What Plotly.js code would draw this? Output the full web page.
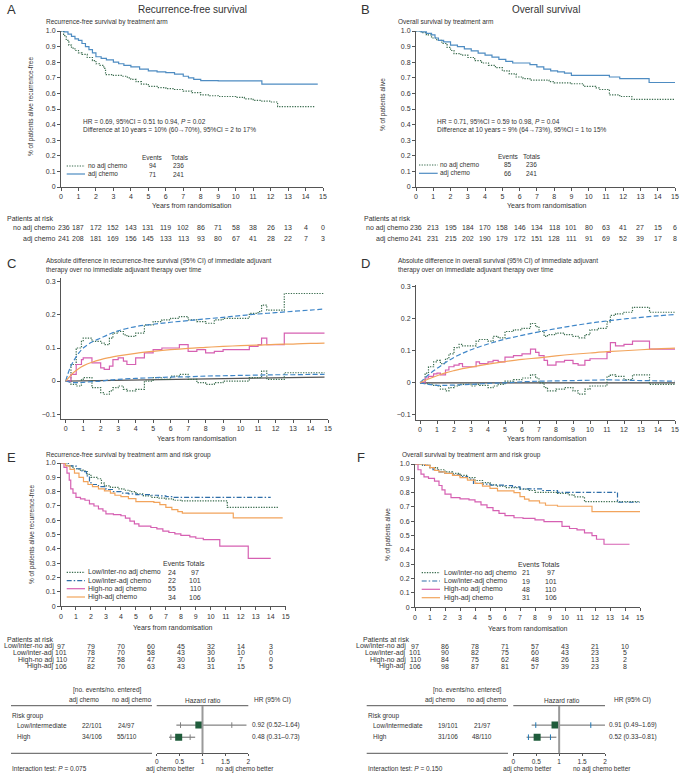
<!DOCTYPE html>
<html>
<head>
<meta charset="utf-8">
<script src="https://cdn.plot.ly/plotly-3.0.1.min.js"></script>
<style>
  body { margin: 0; background: #fff; }
  #chart { width: 681px; height: 773px; }
</style>
</head>
<body>
<div id="chart"></div>
<script>
// ---- A: recurrence-free survival by arm ----
let rfsNoAdjT = [0,0.15,0.3,0.45,0.6,0.8,1,1.2,1.5,1.8,2,2.2,2.45,2.55,3,3.5,3.8,4,4.3,4.6,5,5.5,6,6.5,7,7.5,8,8.5,9,10,10.5,11,11.5,12,12.4,14.5];
let rfsNoAdjS = [1,0.97,0.94,0.91,0.89,0.875,0.86,0.85,0.83,0.81,0.79,0.78,0.76,0.72,0.715,0.71,0.70,0.69,0.675,0.66,0.645,0.637,0.63,0.625,0.615,0.605,0.59,0.585,0.58,0.575,0.565,0.555,0.55,0.545,0.515,0.515];
let rfsAdjT = [0,0.2,0.4,0.6,0.8,1,1.2,1.4,1.6,1.8,2,2.3,2.6,3,3.3,3.6,4,4.5,5,5.5,6,6.5,7,7.3,7.6,8,9,10,11.5,14.7];
let rfsAdjS = [1,0.995,0.98,0.965,0.95,0.94,0.92,0.9,0.88,0.86,0.835,0.825,0.815,0.80,0.79,0.78,0.77,0.756,0.744,0.738,0.733,0.724,0.71,0.70,0.69,0.682,0.68,0.68,0.66,0.66];

// ---- B: overall survival by arm ----
let osNoAdjT = [0,0.3,0.6,0.9,1.2,1.5,1.8,2,2.2,2.6,3,3.4,3.8,4.2,4.6,5,5.4,5.8,6.2,6.6,7.7,8,9,9.7,10.4,10.6,11.2,11.8,12.5,15];
let osNoAdjS = [1,0.99,0.975,0.955,0.94,0.92,0.895,0.875,0.855,0.845,0.83,0.81,0.795,0.78,0.765,0.745,0.725,0.705,0.695,0.685,0.675,0.668,0.662,0.645,0.635,0.625,0.59,0.58,0.562,0.562];
let osAdjT = [0,0.3,0.6,0.9,1.1,1.3,1.6,2,2.4,2.8,3.2,3.6,4,4.4,4.8,5.2,5.6,6.6,7,7.4,7.8,8.2,8.6,9,11.2,11.8,13.5,15];
let osAdjS = [1,0.995,0.985,0.975,0.955,0.94,0.93,0.91,0.9,0.885,0.872,0.858,0.845,0.832,0.818,0.805,0.795,0.785,0.77,0.755,0.745,0.738,0.73,0.715,0.705,0.695,0.67,0.67];

// patients at risk, A and B (yearly)
let riskYears = [0,1,2,3,4,5,6,7,8,9,10,11,12,13,14,15];
let rfsRiskNoAdj = [236,187,172,152,143,131,119,102,86,71,58,38,26,13,4,0];
let rfsRiskAdj = [241,208,181,169,156,145,133,113,93,80,67,41,28,22,7,3];
let osRiskNoAdj = [236,213,195,184,170,158,146,134,118,101,80,63,41,27,15,6];
let osRiskAdj = [241,231,215,202,190,179,172,151,128,111,91,69,52,39,17,8];

// ---- C: absolute difference RFS ----
let cStepT = [0,0.3,0.6,0.9,1,1.5,2,2.2,2.5,2.7,3,3.3,3.5,4,4.5,5,5.5,6,6.5,7,7.5,8,8.5,9,10.5,11,11.2,11.5,12.5,14.8];
let cUpper = [0,0.05,0.1,0.12,0.13,0.12,0.115,0.11,0.13,0.145,0.15,0.14,0.135,0.145,0.17,0.18,0.185,0.19,0.195,0.185,0.18,0.175,0.185,0.19,0.205,0.21,0.23,0.215,0.265,0.265];
let cLower = [0,-0.01,-0.015,0.005,0.01,-0.02,-0.035,-0.04,-0.03,-0.02,-0.015,-0.025,-0.03,-0.025,0,0.01,0.005,0.015,0.02,0.005,-0.005,-0.01,-0.005,0,0.01,0.01,0.03,0.005,0.025,0.025];
let cDiff = [0,0.02,0.05,0.065,0.07,0.055,0.04,0.035,0.045,0.065,0.07,0.06,0.05,0.07,0.085,0.095,0.1,0.1,0.11,0.09,0.095,0.085,0.09,0.095,0.105,0.11,0.13,0.11,0.145,0.145];
let cFitT = [0,0.25,0.5,0.75,1,1.5,2,2.5,3,4,5,6,7,8,9,10,11,12,13,14,14.8];
let cFit = [0,0.015,0.028,0.038,0.046,0.057,0.065,0.071,0.076,0.084,0.09,0.095,0.099,0.102,0.105,0.107,0.109,0.111,0.112,0.114,0.115];
let cFitUp = [0,0.04,0.065,0.085,0.1,0.118,0.13,0.142,0.152,0.165,0.172,0.178,0.183,0.188,0.193,0.198,0.203,0.207,0.211,0.215,0.218];
let cFitLo = [0,-0.004,-0.005,-0.005,-0.004,-0.002,0,0.003,0.005,0.008,0.01,0.012,0.013,0.015,0.016,0.017,0.018,0.019,0.019,0.02,0.02];
let cRefT = [0,14.8];
let cRef = [0,0.012];

// ---- D: absolute difference OS ----
let dStepT = [0,0.3,0.5,0.8,1,1.2,1.5,1.7,2,2.3,2.5,3,3.3,3.5,4,4.3,4.6,5,5.5,6,6.5,6.8,7,7.3,7.5,8,8.5,9,9.3,9.7,10,10.5,11,11.2,11.5,12,12.5,13.5,15];
let dUpper = [0,0.03,0.05,0.065,0.07,0.06,0.075,0.09,0.11,0.12,0.115,0.115,0.13,0.135,0.13,0.145,0.14,0.16,0.165,0.17,0.185,0.175,0.16,0.145,0.15,0.155,0.15,0.145,0.14,0.15,0.165,0.17,0.19,0.21,0.215,0.22,0.235,0.22,0.22];
let dLower = [0,-0.003,-0.005,-0.008,-0.01,-0.02,-0.025,-0.015,-0.01,-0.005,-0.005,-0.01,-0.005,-0.008,-0.015,-0.01,-0.005,0.005,0.01,0.015,0.025,0.015,0,-0.015,-0.025,-0.02,-0.015,-0.025,-0.035,-0.02,-0.01,-0.01,0.02,0.025,0.02,0.01,0.025,-0.005,-0.005];
let dDiff = [0,0.015,0.02,0.028,0.03,0.025,0.04,0.05,0.055,0.06,0.05,0.05,0.065,0.06,0.065,0.07,0.065,0.08,0.085,0.09,0.105,0.095,0.085,0.07,0.055,0.065,0.07,0.06,0.055,0.07,0.075,0.075,0.095,0.125,0.115,0.12,0.13,0.105,0.105];
let dFitT = [0,0.5,1,1.5,2,2.5,3,4,5,6,7,8,9,10,11,12,13,14,15];
let dFit = [0,0.012,0.022,0.031,0.038,0.044,0.049,0.058,0.066,0.073,0.078,0.084,0.089,0.093,0.097,0.1,0.103,0.106,0.108];
let dFitUp = [0,0.025,0.045,0.063,0.079,0.092,0.103,0.121,0.136,0.148,0.159,0.169,0.178,0.186,0.193,0.199,0.204,0.209,0.213];
let dFitLo = [0,-0.005,-0.008,-0.008,-0.007,-0.006,-0.005,-0.002,0,0.003,0.005,0.006,0.007,0.008,0.009,0.008,0.007,0.006,0.005];
let dRefT = [0,15];
let dRef = [0,0];

// ---- E: RFS by arm and risk group ----
let eLowNoT = [0,0.4,0.8,1.2,1.6,1.75,2,2.4,2.7,2.9,3.3,3.8,4.2,4.6,5,5.5,6,6.5,7,7.5,8,11.1,14.5];
let eLowNoS = [1,0.98,0.96,0.95,0.94,0.92,0.9,0.89,0.86,0.84,0.83,0.82,0.81,0.8,0.785,0.77,0.76,0.755,0.75,0.74,0.735,0.69,0.69];
let eLowAdjT = [0,0.5,1,1.4,1.7,1.9,2,2.5,3,3.5,4,4.5,5,6,6.5,7,7.5,14];
let eLowAdjS = [1,0.98,0.96,0.94,0.91,0.87,0.85,0.835,0.815,0.8,0.79,0.785,0.78,0.775,0.77,0.765,0.76,0.76];
let eHighNoT = [0,0.2,0.4,0.55,0.65,0.8,1,1.3,1.6,1.9,2.2,2.5,2.8,3,3.5,4,4.3,4.6,4.9,5.2,6,6.4,6.8,7.2,7.6,8,8.6,9,9.5,10.6,12.5,14];
let eHighNoS = [1,0.97,0.93,0.88,0.82,0.79,0.76,0.75,0.74,0.715,0.7,0.68,0.665,0.645,0.64,0.632,0.615,0.595,0.575,0.56,0.55,0.54,0.525,0.515,0.505,0.495,0.485,0.475,0.465,0.42,0.335,0.335];
let eHighAdjT = [0,0.3,0.6,0.9,1.2,1.5,1.8,2.1,2.5,2.9,3.3,3.6,4,4.5,5,6.2,6.6,7,7.4,7.8,8.1,11.5,14.8];
let eHighAdjS = [1,0.98,0.955,0.93,0.9,0.87,0.85,0.835,0.82,0.805,0.79,0.775,0.765,0.752,0.73,0.725,0.71,0.69,0.675,0.66,0.65,0.617,0.617];

// ---- F: OS by arm and risk group ----
let fLowNoT = [0,0.5,1,1.5,2,2.5,3,3.5,4,4.5,5,5.5,6,7,7.6,8,9.5,10.2,10.6,11.3,15];
let fLowNoS = [1,0.99,0.975,0.96,0.945,0.935,0.92,0.905,0.885,0.87,0.855,0.845,0.835,0.825,0.815,0.802,0.795,0.785,0.77,0.737,0.737];
let fLowAdjT = [0,0.5,1,1.2,1.6,2,2.5,3,3.5,3.9,4.5,5,6,6.5,7,8.5,9.5,13.5,15];
let fLowAdjS = [1,0.99,0.975,0.96,0.945,0.935,0.925,0.912,0.895,0.865,0.86,0.853,0.849,0.84,0.826,0.815,0.802,0.733,0.733];
let fHighNoT = [0,0.2,0.4,0.6,0.9,1.3,1.6,1.8,2,2.4,3,3.6,4,4.4,4.8,5.2,5.6,6,6.6,7.2,8,8.6,9.8,10.3,10.8,11.3,11.8,12.1,12.6,14.3];
let fHighNoS = [1,0.96,0.93,0.91,0.9,0.88,0.85,0.82,0.79,0.765,0.757,0.75,0.735,0.715,0.695,0.675,0.655,0.64,0.625,0.62,0.61,0.598,0.565,0.55,0.54,0.52,0.5,0.475,0.44,0.44];
let fHighAdjT = [0,0.7,1,1.3,1.6,2,2.5,3,3.5,4,4.5,5,5.5,6.6,7,7.3,7.6,8.3,8.7,9.5,11.8,15];
let fHighAdjS = [1,0.99,0.975,0.955,0.945,0.935,0.92,0.905,0.888,0.865,0.845,0.83,0.812,0.8,0.772,0.755,0.742,0.728,0.712,0.705,0.667,0.667];

// patients at risk, E and F (every 2 years)
let groupYears = [0,2,4,6,8,10,12,14];
let groupLabels = ['Low/inter-no adj', 'Low/inter-adj', 'High-no adj', 'High-adj'];
let eRisk = [[97,79,70,60,45,32,14,3],[101,78,70,58,43,30,10,0],[110,72,58,47,30,16,7,0],[106,82,70,63,43,31,15,5]];
let fRisk = [[97,86,78,71,57,43,21,10],[101,90,82,75,60,43,23,5],[110,84,75,62,48,26,13,2],[106,98,87,81,57,39,23,8]];
let groupLegend = ['Low/inter-no adj chemo', 'Low/inter-adj chemo', 'High-no adj chemo', 'High-adj chemo'];
let eEvents = [24,22,55,34];
let eTotals = [97,101,110,106];
let fEvents = [21,19,48,31];
let fTotals = [97,101,110,106];

// forest plots
let riskGroups = ['Low/intermediate', 'High'];
let eAdjEnt = ['22/101', '34/106'];
let eNoAdjEnt = ['24/97', '55/110'];
let eHR = [0.92, 0.48];
let eLo95 = [0.52, 0.31], eHi95 = [1.64, 0.73];
let eLo99 = [0.43, 0.27], eHi99 = [1.96, 0.84];
let fAdjEnt = ['19/101', '31/106'];
let fNoAdjEnt = ['21/97', '48/110'];
let fHR = [0.91, 0.52];
let fLo95 = [0.49, 0.33], fHi95 = [1.69, 0.81];
let fLo99 = [0.40, 0.29], fHi99 = [2.0, 0.94];

const W = 681, H = 773;
const px = v => v / W;
const py = v => 1 - v / H;
const FONT = 'Liberation Sans, Arial, sans-serif';

const green = '#3b6d4f', blueA = '#4e8cc2', pink = '#d660b2', orange = '#f2a45c',
      blueDash = '#3f86c8', blueDD = '#2f6ea8', darkSq = '#1f5c3b';
const DOT = '1.3px,1.3px', DASH = '5px,2.5px', DASHDOT = '5px,2px,1.5px,2px';

let traces = [];
function line(x, y, xa, ya, color, dash, shape, width) {
  traces.push({x: x, y: y, xaxis: xa, yaxis: ya, type: 'scatter', mode: 'lines',
    line: {color: color, dash: dash || 'solid', shape: shape || 'hv', width: width || 1.2},
    hoverinfo: 'skip', showlegend: false});
}

// A
line(rfsNoAdjT, rfsNoAdjS, 'x', 'y', green, DOT);
line(rfsAdjT, rfsAdjS, 'x', 'y', blueA, 'solid');
// B
line(osNoAdjT, osNoAdjS, 'x2', 'y2', green, DOT);
line(osAdjT, osAdjS, 'x2', 'y2', blueA, 'solid');
// C
line(cRefT, cRef, 'x3', 'y3', '#555', 'solid', 'linear', 1.2);
line(cStepT, cUpper, 'x3', 'y3', green, DOT);
line(cStepT, cLower, 'x3', 'y3', green, DOT);
line(cStepT, cDiff, 'x3', 'y3', pink, 'solid');
line(cFitT, cFitUp, 'x3', 'y3', blueDash, DASH, 'spline');
line(cFitT, cFitLo, 'x3', 'y3', blueDash, DASH, 'spline');
line(cFitT, cFit, 'x3', 'y3', orange, 'solid', 'spline');
// D
line(dRefT, dRef, 'x4', 'y4', '#444', 'solid', 'linear', 1.3);
line(dStepT, dUpper, 'x4', 'y4', green, DOT);
line(dStepT, dLower, 'x4', 'y4', green, DOT);
line(dStepT, dDiff, 'x4', 'y4', pink, 'solid');
line(dFitT, dFitUp, 'x4', 'y4', blueDash, DASH, 'spline');
line(dFitT, dFitLo, 'x4', 'y4', blueDash, DASH, 'spline');
line(dFitT, dFit, 'x4', 'y4', orange, 'solid', 'spline');
// E
line(eLowNoT, eLowNoS, 'x5', 'y5', green, DOT);
line(eLowAdjT, eLowAdjS, 'x5', 'y5', blueDD, DASHDOT);
line(eHighNoT, eHighNoS, 'x5', 'y5', pink, 'solid');
line(eHighAdjT, eHighAdjS, 'x5', 'y5', orange, 'solid');
// F
line(fLowNoT, fLowNoS, 'x6', 'y6', green, DOT);
line(fLowAdjT, fLowAdjS, 'x6', 'y6', blueDD, DASHDOT);
line(fHighNoT, fHighNoS, 'x6', 'y6', pink, 'solid');
line(fHighAdjT, fHighAdjS, 'x6', 'y6', orange, 'solid');

// forest plots: rows at y = 2 (low/inter) and 1 (high)
function forest(hr, lo95, hi95, lo99, hi99, xa, ya) {
  let rows = [2, 1];
  let cx = [], cy = [];
  rows.forEach((r, i) => { cx.push(lo99[i], hi99[i], null); cy.push(r, r, null); });
  traces.push({x: cx, y: cy, xaxis: xa, yaxis: ya, type: 'scatter', mode: 'lines',
    line: {color: '#666', width: 1}, hoverinfo: 'skip', showlegend: false});
  traces.push({x: lo95.concat(hi95), y: rows.concat(rows), xaxis: xa, yaxis: ya, type: 'scatter', mode: 'markers',
    marker: {symbol: 'line-ns-open', size: 4, line: {color: '#666', width: 1}}, hoverinfo: 'skip', showlegend: false});
  traces.push({x: hr, y: rows, xaxis: xa, yaxis: ya, type: 'scatter', mode: 'markers',
    marker: {symbol: 'square', size: 7, color: darkSq}, hoverinfo: 'skip', showlegend: false});
}
forest(eHR, eLo95, eHi95, eLo99, eHi99, 'x7', 'y7');
forest(fHR, fLo95, fHi95, fLo99, fHi99, 'x8', 'y8');

function axis(domPx, range, extra, vertical) {
  let dom = vertical ? [py(domPx[1]), py(domPx[0])] : [px(domPx[0]), px(domPx[1])];
  return Object.assign({domain: dom, range: range, showline: true, linecolor: '#555', linewidth: 1,
    ticks: 'outside', ticklen: 3, tickwidth: 1, tickcolor: '#555', showgrid: false, zeroline: false,
    tickfont: {size: 7, color: '#333', family: FONT}, fixedrange: true}, extra);
}
const xTicks15 = {tickvals: riskYears, ticktext: riskYears.map(String)};
const survTicks = {tickvals: [0,0.1,0.2,0.3,0.4,0.5,0.6,0.7,0.8,0.9,1],
  ticktext: ['0','0.1','0.2','0.3','0.4','0.5','0.6','0.7','0.8','0.9','1.0']};
const diffTicks = {tickvals: [-0.1,0,0.1,0.2,0.3], ticktext: ['\u22120.1','0','0.1','0.2','0.3']};
const hrTicks = {tickvals: [0,0.5,1,1.5,2], ticktext: ['0','0.5','1','1.5','2'], ticklen: 2,
  tickfont: {size: 6.5, color: '#333', family: FONT}};

let layout = {
  width: W, height: H,
  margin: {l: 0, r: 0, t: 0, b: 0},
  paper_bgcolor: '#fff', plot_bgcolor: 'rgba(0,0,0,0)',
  font: {family: FONT, size: 7, color: '#333'},
  showlegend: false,
  xaxis: axis([61, 323], [0, 15], Object.assign({anchor: 'y'}, xTicks15)),
  yaxis: axis([31, 187], [0, 1], Object.assign({anchor: 'x'}, survTicks), true),
  xaxis2: axis([416, 675], [0, 15], Object.assign({anchor: 'y2'}, xTicks15)),
  yaxis2: axis([31, 187], [0, 1], Object.assign({anchor: 'x2'}, survTicks), true),
  xaxis3: axis([61, 328], [-0.27, 15], Object.assign({anchor: 'y3'}, xTicks15)),
  yaxis3: axis([278, 419], [-0.115, 0.312], Object.assign({anchor: 'x3'}, diffTicks), true),
  xaxis4: axis([416, 675], [-0.235, 15], Object.assign({anchor: 'y4'}, xTicks15)),
  yaxis4: axis([285, 420], [-0.116, 0.305], Object.assign({anchor: 'x4'}, diffTicks), true),
  xaxis5: axis([61, 285.7], [0, 15], Object.assign({anchor: 'y5'}, xTicks15)),
  yaxis5: axis([463, 606.3], [0, 1], Object.assign({anchor: 'x5'}, survTicks), true),
  xaxis6: axis([415, 640], [0, 15], Object.assign({anchor: 'y6'}, xTicks15)),
  yaxis6: axis([464, 607.3], [0, 1], Object.assign({anchor: 'x6'}, survTicks), true),
  xaxis7: axis([156.7, 248.3], [0, 2], Object.assign({anchor: 'y7'}, hrTicks)),
  yaxis7: axis([710, 753.3], [-0.33, 3.25], {anchor: 'x7', visible: false}, true),
  xaxis8: axis([513.3, 605], [0, 2], Object.assign({anchor: 'y8'}, hrTicks)),
  yaxis8: axis([710, 753.3], [-0.33, 3.25], {anchor: 'x8', visible: false}, true),
  annotations: [],
  shapes: []
};

function txt(text, x, y, anchor, size, extra) {
  layout.annotations.push(Object.assign({text: text, x: px(x), y: py(y), xref: 'paper', yref: 'paper',
    xanchor: anchor || 'left', yanchor: 'middle', showarrow: false, borderpad: 0,
    font: {size: size || 7, color: '#333', family: FONT}}, extra || {}));
}
function dataTxt(text, xval, xa, y, size) {
  layout.annotations.push({text: text, x: xval, y: py(y), xref: xa, yref: 'paper',
    xanchor: 'center', yanchor: 'middle', showarrow: false, borderpad: 0,
    font: {size: size || 7, color: '#333', family: FONT}});
}
function hline(x0, x1, y, color, dash, width) {
  layout.shapes.push({type: 'line', xref: 'paper', yref: 'paper', x0: px(x0), x1: px(x1), y0: py(y), y1: py(y),
    line: {color: color || '#555', dash: dash || 'solid', width: width || 1}});
}

// headings
txt('A', 6, 10, 'left', 13);
txt('Recurrence-free survival', 192, 10, 'center', 10);
txt('B', 360, 10, 'left', 13);
txt('Overall survival', 546, 10, 'center', 10);
txt('Recurrence-free survival by treatment arm', 45, 22.5, 'left', 6.5);
txt('Overall survival by treatment arm', 397, 22.5, 'left', 6.5);

// axis titles
txt('% of patients alive recurrence-free', 31, 107, 'center', 6.5, {textangle: -90});
txt('% of patients alive', 383, 105, 'center', 6.5, {textangle: -90});
txt('Years from randomisation', 192, 205.5, 'center', 7);
txt('Years from randomisation', 546.5, 205.5, 'center', 7);
txt('Years from randomisation', 196.5, 438, 'center', 7);
txt('Years from randomisation', 546.5, 438, 'center', 7);
txt('% of patients alive recurrence-free', 32, 535, 'center', 6.5, {textangle: -90});
txt('% of patients alive', 388, 535, 'center', 6.5, {textangle: -90});
txt('Years from randomisation', 173, 627, 'center', 7);
txt('Years from randomisation', 528, 628, 'center', 7);

// A statistics and legend
txt('HR = 0.69, 95%CI = 0.51 to 0.94, <i>P</i> = 0.02', 81.5, 121.7, 'left', 6.5);
txt('Difference at 10 years = 10% (60\u219270%), 95%CI = 2 to 17%', 81.5, 129.5, 'left', 6.5);
txt('Events', 152.7, 157.5, 'center', 6.5);
txt('Totals', 180, 157.5, 'center', 6.5);
hline(66.7, 85, 166, green, DOT, 1.2);
hline(66.7, 85, 174, blueA, 'solid', 1.2);
txt('no adj chemo', 87.3, 166, 'left', 6.5);
txt('adj chemo', 87.3, 174, 'left', 6.5);
txt('94', 152.7, 166, 'center', 6.5); txt('236', 178.3, 166, 'center', 6.5);
txt('71', 152.7, 174, 'center', 6.5); txt('241', 178.3, 174, 'center', 6.5);

// B statistics and legend
txt('HR = 0.71, 95%CI = 0.59 to 0.98, <i>P</i> = 0.04', 435.7, 121.7, 'left', 6.5);
txt('Difference at 10 years = 9% (64\u219273%), 95%CI = 1 to 15%', 435.7, 130, 'left', 6.5);
txt('Events', 508.3, 156, 'center', 6.5);
txt('Totals', 531.7, 156, 'center', 6.5);
hline(419, 437.7, 165, green, DOT, 1.2);
hline(419, 437.7, 173.3, blueA, 'solid', 1.2);
txt('no adj chemo', 439.3, 165, 'left', 6.5);
txt('adj chemo', 439.3, 173.3, 'left', 6.5);
txt('85', 508.3, 165, 'center', 6.5); txt('236', 531.7, 165, 'center', 6.5);
txt('66', 508.3, 173.3, 'center', 6.5); txt('241', 531.7, 173.3, 'center', 6.5);

// at-risk tables A and B
txt('Patients at risk', 6, 218, 'left', 7);
txt('no adj chemo', 56, 228, 'right', 7);
txt('adj chemo', 56, 238.5, 'right', 7);
riskYears.forEach((t, i) => {
  dataTxt(String(rfsRiskNoAdj[i]), t + (i === 0 ? 0.15 : 0), 'x', 228);
  dataTxt(String(rfsRiskAdj[i]), t + (i === 0 ? 0.15 : 0), 'x', 238.5);
});
txt('Patients at risk', 362.7, 218, 'left', 7);
txt('no adj chemo', 409, 228, 'right', 7);
txt('adj chemo', 409, 238.5, 'right', 7);
riskYears.forEach((t, i) => {
  dataTxt(String(osRiskNoAdj[i]), t, 'x2', 228);
  dataTxt(String(osRiskAdj[i]), t, 'x2', 238.5);
});

// C, D headings
txt('C', 6, 263, 'left', 13);
txt('Absolute difference in recurrence-free survival (95% CI) of immediate adjuvant', 45, 261, 'left', 6.5);
txt('therapy over no immediate adjuvant therapy over time', 45, 269.5, 'left', 6.5);
txt('D', 360, 263, 'left', 13);
txt('Absolute difference in overall survival (95% CI) of immediate adjuvant', 397.3, 261, 'left', 6.5);
txt('therapy over on immediate adjuvant therapy over time', 397.3, 269.5, 'left', 6.5);

// E, F headings
txt('E', 6, 457, 'left', 13);
txt('Recurrence-free survival by treatment arm and risk group', 45, 455, 'left', 6.5);
txt('F', 356, 457, 'left', 13);
txt('Overall survival by treatment arm and risk group', 401, 455, 'left', 6.5);

// E, F legends
let groupColors = [green, blueDD, pink, orange];
let groupDash = [DOT, DASHDOT, 'solid', 'solid'];
let eRows = [572.3, 580.7, 588.7, 597];
let fRows = [572.7, 581, 589.3, 597.7];
txt('Events Totals', 184, 563.7, 'center', 7);
txt('Events Totals', 539, 564, 'center', 7);
groupLegend.forEach((g, i) => {
  hline(66.7, 85, eRows[i], groupColors[i], groupDash[i], 1.2);
  txt(g, 87.3, eRows[i], 'left', 7);
  txt(String(eEvents[i]), 171.7, eRows[i], 'center', 7);
  txt(String(eTotals[i]), 195, eRows[i], 'center', 7);
  hline(421.7, 440, fRows[i], groupColors[i], groupDash[i], 1.2);
  txt(g, 442.7, fRows[i], 'left', 7);
  txt(String(fEvents[i]), 526, fRows[i], 'center', 7);
  txt(String(fTotals[i]), 550.7, fRows[i], 'center', 7);
});

// E, F at-risk tables
let gRows = [646, 652.7, 659.5, 666.2];
txt('Patients at risk', 6, 639, 'left', 7);
txt('Patients at risk', 361.7, 639, 'left', 7);
groupLabels.forEach((g, i) => {
  txt(g, 55, gRows[i], 'right', 7);
  txt(g, 406.7, gRows[i], 'right', 7);
  groupYears.forEach((t, j) => {
    dataTxt(String(eRisk[i][j]), t, 'x5', gRows[i]);
    dataTxt(String(fRisk[i][j]), t, 'x6', gRows[i]);
  });
});

// forest tables
function forestTable(x0, colAdj, colNo, hdrCenter, hrCenter, hrTitle, lineEnd, axStart, axEnd, hrTextX, adjEnt, noAdjEnt, hr, lo, hi, pText, betterL, betterR) {
  txt('[no. events/no. entered]', hdrCenter, 690, 'center', 6.5);
  txt('adj chemo', colAdj, 700, 'center', 6.5);
  txt('no adj chemo', colNo, 700, 'center', 6.5);
  txt('Hazard ratio', hrCenter, 700, 'center', 6.5);
  txt('HR (95% CI)', hrTitle, 700, 'center', 6.5);
  hline(x0, lineEnd, 705.7, '#555', 'solid', 1);
  hline(axStart, axEnd, 705.7, '#555', 'solid', 1);
  hline(x0, lineEnd, 753.3, '#555', 'solid', 1);
  txt('Risk group', x0, 716, 'left', 6.5);
  let rowsY = [725, 736.7];
  riskGroups.forEach((g, i) => {
    txt(g, x0 + 5, rowsY[i], 'left', 6.5);
    txt(adjEnt[i], colAdj + 7.7, rowsY[i], 'center', 6.5);
    txt(noAdjEnt[i], colNo - 4.3, rowsY[i], 'center', 6.5);
    txt(hr[i].toFixed(2) + ' (' + lo[i].toFixed(2) + '\u2013' + hi[i].toFixed(2) + ')', hrTextX, rowsY[i], 'left', 6.5);
  });
  txt('Interaction test: <i>P</i> = ' + pText, x0, 768.5, 'left', 6.5);
  txt('adj chemo better', betterL, 768.5, 'center', 6.5);
  txt('no adj chemo better', betterR, 768.5, 'center', 6.5);
}
forestTable(11, 84, 131, 106.7, 203, 272.7, 152, 156.7, 248.3, 250.7, eAdjEnt, eNoAdjEnt, eHR, eLo95, eHi95, '0.075', 170.7, 245);
forestTable(366.7, 440, 486.7, 466.7, 561.7, 632.3, 508, 513.3, 605, 608.3, fAdjEnt, fNoAdjEnt, fHR, fLo95, fHi95, '0.150', 527.7, 601.7);

// HR = 1 reference lines
layout.shapes.push({type: 'line', xref: 'x7', yref: 'paper', x0: 1, x1: 1, y0: py(706), y1: py(753.3), line: {color: '#9a9a9a', width: 2}});
layout.shapes.push({type: 'line', xref: 'x8', yref: 'paper', x0: 1, x1: 1, y0: py(706), y1: py(753.3), line: {color: '#9a9a9a', width: 2}});

Plotly.newPlot('chart', traces, layout, {staticPlot: true, displayModeBar: false});
</script>
</body>
</html>
